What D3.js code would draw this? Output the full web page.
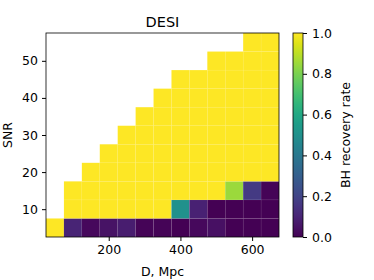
<!DOCTYPE html>
<meta charset="utf-8">
<style>
body { margin: 0; background: #fff; }
text { font-family: "DejaVu Sans", sans-serif; fill: #000; }
.axis { font-size: 12.5px; }
.axis text { font-family: "DejaVu Sans", sans-serif; }
</style>
<svg width="374" height="280"></svg>
<script src="https://d3js.org/d3.v7.min.js"></script>
<script>

// distance bin centres (Mpc) and SNR bin centres
var distances = [50, 100, 150, 200, 250, 300, 350, 400, 450, 500, 550, 600, 650];
var snrs = [5, 10, 15, 20, 25, 30, 35, 40, 45, 50, 55];

// recovery rate per SNR row (null = no data)
var rate5  = [1.0, 0.10, 0.02, 0.05, 0.08, 0.01, 0.01, 0.0, 0.02, 0.04, 0.0, 0.0, 0.0];
var rate10 = [null, 1, 1, 1, 1, 1, 1, 0.50, 0.09, 0.0, 0.0, 0.0, 0.0];
var rate15 = [null, 1, 1, 1, 1, 1, 1, 1, 1, 1, 0.85, 0.17, 0.01];
var rate20 = [null, null, 1, 1, 1, 1, 1, 1, 1, 1, 1, 1, 1];
var rate25 = [null, null, null, 1, 1, 1, 1, 1, 1, 1, 1, 1, 1];
var rate30 = [null, null, null, null, 1, 1, 1, 1, 1, 1, 1, 1, 1];
var rate35 = [null, null, null, null, null, 1, 1, 1, 1, 1, 1, 1, 1];
var rate40 = [null, null, null, null, null, null, 1, 1, 1, 1, 1, 1, 1];
var rate45 = [null, null, null, null, null, null, null, 1, 1, 1, 1, 1, 1];
var rate50 = [null, null, null, null, null, null, null, null, null, 1, 1, 1, 1];
var rate55 = [null, null, null, null, null, null, null, null, null, null, null, 1, 1];
var rates = [rate5, rate10, rate15, rate20, rate25, rate30, rate35, rate40, rate45, rate50, rate55];

var xTicks = [200, 400, 600];
var yTicks = [10, 20, 30, 40, 50];
var cTicks = [0, 0.2, 0.4, 0.6, 0.8, 1.0];

var svg = d3.select("svg");
var plotL = 46, plotR = 279, plotT = 33, plotB = 237;

var x = d3.scaleLinear().domain([25, 675]).range([plotL, plotR]);
var y = d3.scaleLinear().domain([2.5, 57.5]).range([plotB, plotT]);
var color = d3.scaleSequential(d3.interpolateViridis).domain([0, 1]);

var cells = [];
rates.forEach(function(row, i) {
  row.forEach(function(v, j) {
    if (v !== null) cells.push({d: distances[j], s: snrs[i], v: v});
  });
});

svg.append("g").selectAll("rect")
  .data(cells)
  .enter().append("rect")
    .attr("x", function(d) { return x(d.d - 25); })
    .attr("y", function(d) { return y(d.s + 2.5); })
    .attr("width", function(d) { return x(d.d + 25) - x(d.d - 25); })
    .attr("height", function(d) { return y(d.s - 2.5) - y(d.s + 2.5); })
    .attr("fill", function(d) { return color(d.v); })
    .attr("stroke", "rgba(255,255,255,0.07)")
    .attr("stroke-width", 0.6);

// frame
svg.append("rect")
  .attr("x", plotL).attr("y", plotT)
  .attr("width", plotR - plotL).attr("height", plotB - plotT)
  .attr("fill", "none").attr("stroke", "#000").attr("stroke-width", 0.8);

svg.append("g")
  .attr("class", "axis")
  .attr("transform", "translate(0," + plotB + ")")
  .call(d3.axisBottom(x).tickValues(xTicks).tickSize(4).tickPadding(4))
  .call(function(g) { g.select(".domain").remove(); });

svg.append("g")
  .attr("class", "axis")
  .attr("transform", "translate(" + plotL + ",0)")
  .call(d3.axisLeft(y).tickValues(yTicks).tickSize(4).tickPadding(4))
  .call(function(g) { g.select(".domain").remove(); });

svg.append("text")
  .attr("x", (plotL + plotR) / 2).attr("y", 26.5)
  .attr("text-anchor", "middle")
  .style("font-size", "14.5px")
  .text("DESI");

svg.append("text")
  .attr("x", (plotL + plotR) / 2).attr("y", 276)
  .attr("text-anchor", "middle")
  .style("font-size", "12.5px")
  .text("D, Mpc");

svg.append("text")
  .attr("transform", "translate(12," + (plotT + plotB) / 2 + ") rotate(-90)")
  .attr("text-anchor", "middle")
  .style("font-size", "12.5px")
  .text("SNR");

// colorbar
var cbX = 293, cbW = 10;
var cy = d3.scaleLinear().domain([0, 1]).range([plotB, plotT]);
var defs = svg.append("defs");
var grad = defs.append("linearGradient")
  .attr("id", "viridis").attr("x1", 0).attr("y1", 1).attr("x2", 0).attr("y2", 0);
d3.range(0, 1.0001, 0.05).forEach(function(t) {
  grad.append("stop").attr("offset", t).attr("stop-color", color(t));
});
svg.append("rect")
  .attr("x", cbX).attr("y", plotT)
  .attr("width", cbW).attr("height", plotB - plotT)
  .attr("fill", "url(#viridis)")
  .attr("stroke", "#000").attr("stroke-width", 0.8);

svg.append("g")
  .attr("class", "axis")
  .attr("transform", "translate(" + (cbX + cbW) + ",0)")
  .call(d3.axisRight(cy).tickValues(cTicks).tickFormat(d3.format(".1f")).tickSize(4).tickPadding(5))
  .call(function(g) { g.select(".domain").remove(); });

svg.append("text")
  .attr("transform", "translate(350," + (plotT + plotB) / 2 + ") rotate(-90)")
  .attr("text-anchor", "middle")
  .style("font-size", "12.5px")
  .text("BH recovery rate");

</script>
